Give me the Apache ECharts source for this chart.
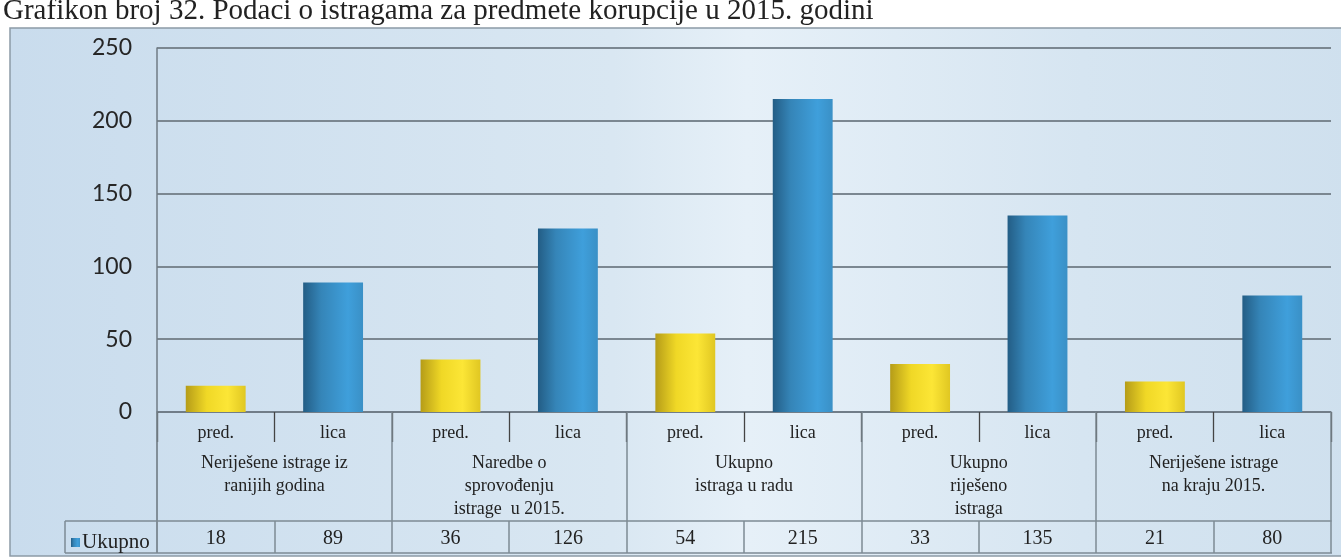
<!DOCTYPE html>
<html>
<head>
<meta charset="utf-8">
<script src="https://cdn.jsdelivr.net/npm/echarts@6/dist/echarts.min.js"></script>
<style>
  html, body { margin: 0; padding: 0; background: #fff; }
  #chart { width: 1341px; height: 558px; }
</style>
</head>
<body>
<div id="chart"></div>
<script>
// data
const subLabels = ['pred.', 'lica', 'pred.', 'lica', 'pred.', 'lica', 'pred.', 'lica', 'pred.', 'lica']
const groupLabels = [
  'Neriješene istrage iz\nranijih godina',
  'Naredbe o\nsprovođenju\nistrage  u 2015.',
  'Ukupno\nistraga u radu',
  'Ukupno\nriješeno\nistraga',
  'Neriješene istrage\nna kraju 2015.'
]
const ukupno = [18, 89, 36, 126, 54, 215, 33, 135, 21, 80]
const yTicks = [0, 50, 100, 150, 200, 250]

const serif = '"Liberation Serif", "DejaVu Serif", serif'
const sans = 'Lato, "Open Sans", "Noto Sans", sans-serif'

const yellow = new echarts.graphic.LinearGradient(0, 0, 1, 0, [
  { offset: 0, color: '#b59c18' },
  { offset: 0.35, color: '#f0d826' },
  { offset: 0.7, color: '#fce636' },
  { offset: 1, color: '#e0c722' }
])
const blue = new echarts.graphic.LinearGradient(0, 0, 1, 0, [
  { offset: 0, color: '#235d85' },
  { offset: 0.3, color: '#3585b8' },
  { offset: 0.75, color: '#3f9fdb' },
  { offset: 1, color: '#3a90c6' }
])

const barData = ukupno.map(function (v, i) {
  return i % 2 === 0 ? { value: v, itemStyle: { color: yellow } } : v
})

const chart = echarts.init(document.getElementById('chart'))
chart.setOption({
  animation: false,
  title: {
    text: 'Grafikon broj 32. Podaci o istragama za predmete korupcije u 2015. godini',
    left: -2,
    top: -8,
    textStyle: { fontFamily: serif, fontSize: 29, fontWeight: 'normal', color: '#222' }
  },
  graphic: [
    {
      type: 'rect', z: -10, silent: true,
      shape: { x: 10, y: 28, width: 1340, height: 528 },
      style: {
        fill: new echarts.graphic.LinearGradient(0, 0, 1, 0, [
          { offset: 0, color: '#c9dced' },
          { offset: 0.45, color: '#d9e7f2' },
          { offset: 0.55, color: '#e6f0f8' },
          { offset: 0.8, color: '#d6e5f1' },
          { offset: 1, color: '#cfe0ee' }
        ]),
        stroke: '#8c9aa6', lineWidth: 1.5
      }
    },
    { type: 'line', silent: true, shape: { x1: 65, y1: 521, x2: 157, y2: 521 }, style: { stroke: '#7d8a94', lineWidth: 1.5 } },
    { type: 'line', silent: true, shape: { x1: 65, y1: 553, x2: 1332, y2: 553 }, style: { stroke: '#7d8a94', lineWidth: 1.5 } },
    { type: 'line', silent: true, shape: { x1: 65, y1: 521, x2: 65, y2: 553 }, style: { stroke: '#7d8a94', lineWidth: 1.5 } },
    { type: 'line', silent: true, shape: { x1: 157, y1: 412, x2: 157, y2: 553 }, style: { stroke: '#7d8a94', lineWidth: 1.5 } }
  ],
  legend: {
    left: 66,
    top: 527,
    icon: 'rect',
    itemWidth: 9,
    itemHeight: 9,
    itemGap: 2,
    data: ['Ukupno'],
    textStyle: { fontFamily: serif, fontSize: 21, color: '#222', padding: [0, 0, 0, -3] }
  },
  grid: { left: 157, right: 10, top: 48, bottom: 146 },
  xAxis: [
    {
      type: 'category',
      data: subLabels,
      axisLine: { show: true, lineStyle: { color: '#6f7b85', width: 1.5 } },
      axisTick: { show: true, length: 30, lineStyle: { color: '#444', width: 1.3 } },
      axisLabel: { margin: 12, fontFamily: serif, fontSize: 18, color: '#222' }
    },
    {
      type: 'category',
      data: groupLabels,
      position: 'bottom',
      axisLine: { show: false },
      axisTick: { show: true, length: 141, lineStyle: { color: '#7d8a94', width: 1.5 } },
      axisLabel: { margin: 40, fontFamily: serif, fontSize: 18, lineHeight: 23, color: '#222', verticalAlign: 'top' }
    },
    {
      type: 'category',
      data: ukupno.map(String),
      position: 'bottom',
      offset: 109,
      axisLine: { show: true, lineStyle: { color: '#7d8a94', width: 1.5 } },
      axisTick: { show: true, length: 32, lineStyle: { color: '#7d8a94', width: 1.5 } },
      axisLabel: { margin: 8, fontFamily: serif, fontSize: 20, color: '#222' }
    }
  ],
  yAxis: {
    type: 'value',
    min: yTicks[0],
    max: yTicks[yTicks.length - 1],
    interval: 50,
    axisLine: { show: true, lineStyle: { color: '#6f7b85', width: 1.5 } },
    axisTick: { show: false },
    axisLabel: { margin: 25, fontFamily: sans, fontSize: 23, color: '#262626' },
    splitLine: { lineStyle: { color: '#7b8791', width: 1.8 } }
  },
  series: [
    {
      name: 'Ukupno',
      type: 'bar',
      xAxisIndex: 0,
      barWidth: '51%',
      itemStyle: { color: blue },
      data: barData
    }
  ]
})
</script>
</body>
</html>
